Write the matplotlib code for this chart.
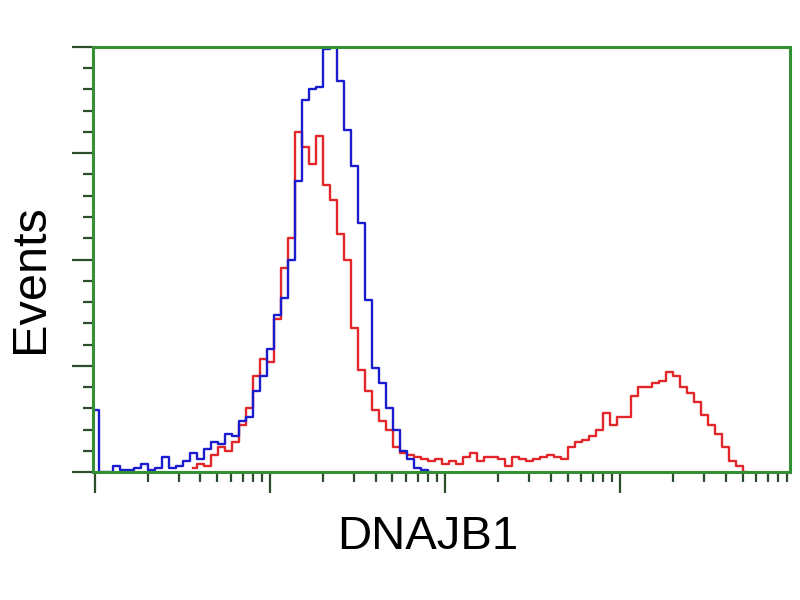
import numpy as np
import matplotlib.pyplot as plt
from matplotlib.ticker import FixedLocator, NullFormatter

# bins in decades (log10 of fluorescence), step 0.04
paso = 0.04

# control (azul), bins 0..48
azul = [29, 0, 0, 3, 1, 1, 2, 4, 1, 2,
        7, 2, 3, 5, 9, 6, 11, 14, 13, 18,
        17, 24, 26, 38, 45, 58, 74, 82, 100, 137,
        175, 180, 181, 199, 200, 184, 161, 144, 117, 81,
        49, 42, 30, 20, 10, 6, 2, 1, 0]

# DNAJB1 (rojo), bins 14..93
inicio_rojo = 14
rojo = [2, 4, 3, 8, 12, 10, 14, 22, 30, 45,
        53, 52, 72, 96, 110, 160, 153, 145, 158, 135,
        128, 112, 100, 68, 48, 38, 29, 24, 20, 12,
        9, 8, 7, 6, 5, 6, 4, 5, 4, 7,
        9, 5, 7, 7, 6, 3, 7, 6, 5, 6,
        7, 8, 7, 6, 12, 14, 15, 17, 20, 28,
        22, 26, 26, 36, 40, 40, 42, 43, 47, 45,
        40, 37, 33, 27, 22, 18, 12, 5, 3, 0]

x_azul = 10 ** (np.arange(len(azul)) * paso)
x_rojo = 10 ** ((np.arange(len(rojo)) + inicio_rojo) * paso)

verde = '#358f35'
oscuro = '#2d4d2d'

fig = plt.figure(figsize=(8, 6), dpi=100)
ax = fig.add_axes([0.11625, 0.2133, 0.87125, 0.7084])

ax.plot(x_rojo, rojo, color='#e3262a', lw=1.7, drawstyle='steps-mid')
ax.plot(x_azul, azul, color='#1c1ccf', lw=1.7, drawstyle='steps-mid')

ax.set_xscale('log')
ax.set_xlim(10 ** -0.012, 10 ** 3.97)
ax.set_ylim(0, 200)

# ticks
ax.xaxis.set_major_locator(FixedLocator([1, 10, 100, 1000]))
menores = [m * 10 ** d for d in range(4) for m in range(2, 10)]
ax.xaxis.set_minor_locator(FixedLocator(menores))
ax.xaxis.set_major_formatter(NullFormatter())
ax.xaxis.set_minor_formatter(NullFormatter())
ax.yaxis.set_major_locator(FixedLocator([0, 50, 100, 150, 200]))
ax.yaxis.set_minor_locator(FixedLocator(list(range(10, 200, 10))))
ax.yaxis.set_major_formatter(NullFormatter())

ax.tick_params(which='major', direction='out', length=15, width=1.6, color=oscuro)
ax.tick_params(which='minor', direction='out', length=7, width=1.6, color=oscuro)

for s in ax.spines.values():
    s.set_color(verde)
    s.set_linewidth(2.2)

fig.text(0.038, 0.535, 'Events', rotation=90, ha='center', va='center',
         fontsize=35, family='Liberation Sans')
fig.text(0.534, 0.105, 'DNAJB1', ha='center', va='center',
         fontsize=34, family='Liberation Sans')

fig.savefig('out.png', dpi=100)
